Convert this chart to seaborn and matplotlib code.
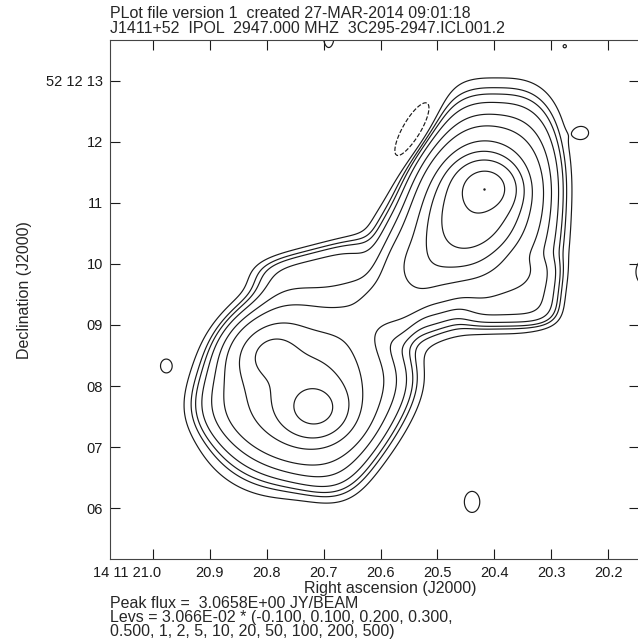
import numpy as np
import seaborn as sns
import matplotlib
matplotlib.use('Agg')
from matplotlib import pyplot as plt
from matplotlib.transforms import ScaledTranslation

# header / footer text
title_lines = ['PLot file version 1  created 27-MAR-2014 09:01:18',
               'J1411+52  IPOL  2947.000 MHZ  3C295-2947.ICL001.2']
peak_flux = 3.0658
lev_unit = 3.066e-02
levs = [-0.1, 0.1, 0.2, 0.3, 0.5, 1, 2, 5, 10, 20, 50, 100, 200, 500]

# axes ticks (RA seconds of 14h11m, Dec arcsec of +52d12m)
ra_ticks = [21.0, 20.9, 20.8, 20.7, 20.6, 20.5, 20.4, 20.3, 20.2]
ra_labels = ['14 11 21.0', '20.9', '20.8', '20.7', '20.6', '20.5', '20.4', '20.3', '20.2']
dec_ticks = [6, 7, 8, 9, 10, 11, 12, 13]
dec_labels = ['06', '07', '08', '09', '10', '11', '12', '52 12 13']
ra_lim = (21.0756, 20.1455)
dec_lim = (5.164, 13.672)

# source model components (fraction of peak)
# gaussian parts: hotspots / lobes / islands / negative hole
g_ra  = [20.415, 20.432, 20.490, 20.714, 20.798, 20.735, 20.636,
         20.977, 20.439, 20.246, 20.130, 20.691, 20.276, 20.540]
g_dec = [11.25, 10.97, 10.26, 7.61, 8.56, 8.02, 9.08,
         8.33, 6.10, 12.15, 9.87, 13.74, 13.57, 12.20]
g_amp = [0.62, 0.36, 0.08, 0.17, 0.07, 0.09, 0.012,
         0.0015, 0.0015, 0.0015, 0.0015, 0.0015, 0.00105, -0.0022]
g_sa  = [0.24, 0.49, 0.62, 0.33, 0.34, 0.66, 0.45,
         0.09, 0.13, 0.11, 0.20, 0.09, 0.06, 0.47]
g_sb  = [0.21, 0.39, 0.40, 0.29, 0.28, 0.56, 0.30,
         0.11, 0.18, 0.10, 0.25, 0.20, 0.06, 0.15]
g_ang = [0, 70, 50, 0, 30, 45, 40,
         0, 0, 0, 0, 0, 0, 60]
# flat-topped (superellipse) envelopes for the faint emission
e_ra  = [20.395, 20.373, 20.733, 20.707, 20.566]
e_dec = [10.97, 9.57, 7.88, 9.66, 9.57]
e_amp = [0.02, 0.01, 0.02, 0.006, 0.01]
e_sa  = [1.43, 0.68, 1.22, 0.91, 0.70]
e_sb  = [0.81, 0.50, 1.10, 0.56, 0.45]
e_ang = [90, 0, -30, 15, 60]
e_pow = [3, 4, 4, 4, 4]


def comp(ra, dec, ra_c, dec_c, sa, sb, ang, p):
	k = 15 * np.cos(np.radians(52.2))
	du = (ra_c - ra) * k
	dv = dec - dec_c
	t = np.radians(ang)
	a = du * np.cos(t) + dv * np.sin(t)
	b = -du * np.sin(t) + dv * np.cos(t)
	if p == 2:
		return np.exp(-0.5 * ((a / sa) ** 2 + (b / sb) ** 2))
	return np.exp(-(np.abs(a / sa) ** p + np.abs(b / sb) ** p))


ra = np.linspace(20.05, 21.15, 560)
dec = np.linspace(5.0, 14.0, 560)
RA, DEC = np.meshgrid(ra, dec)
img = np.zeros_like(RA)
for i in range(len(g_ra)):
	img += g_amp[i] * comp(RA, DEC, g_ra[i], g_dec[i], g_sa[i], g_sb[i], g_ang[i], 2)
for i in range(len(e_ra)):
	img += e_amp[i] * comp(RA, DEC, e_ra[i], e_dec[i], e_sa[i], e_sb[i], e_ang[i], e_pow[i])
img = img / img.max() * peak_flux

sns.set_theme(style='ticks')
plt.rcParams['font.family'] = ['Liberation Sans', 'DejaVu Sans']

fig = plt.figure(figsize=(6.38, 6.43), dpi=100)
ax = fig.add_axes([110 / 638, 84 / 643, 529 / 638, 519 / 643])
ax.contour(RA, DEC, img, levels=[lev_unit * l for l in levs], colors='k', linewidths=0.85)
jmax, imax = np.unravel_index(np.argmax(img), img.shape)
ax.plot(RA[jmax, imax], DEC[jmax, imax], 'k.', markersize=1.5)

ax.set_xlim(ra_lim)
ax.set_ylim(dec_lim)
ax.set_xticks(ra_ticks)
ax.set_xticklabels(ra_labels)
ax.set_yticks(dec_ticks)
ax.set_yticklabels(dec_labels)
ax.tick_params(direction='in', length=7.5, width=0.8, top=True, right=True,
               labelsize=10.5, colors='k', pad=5)
first = ax.get_xticklabels()[0]
first.set_horizontalalignment('right')
first.set_transform(first.get_transform() + ScaledTranslation(8 / 100, 0, fig.dpi_scale_trans))
for s in ax.spines.values():
	s.set_linewidth(0.8)
	s.set_color('#444444')

fs = 11.5
fig.text(110 / 638, 1 - 18 / 643, title_lines[0], fontsize=fs, ha='left', va='baseline')
fig.text(110 / 638, 1 - 33 / 643, title_lines[1], fontsize=fs, ha='left', va='baseline')
fig.text(390 / 638, 1 - 593 / 643, 'Right ascension (J2000)', fontsize=fs, ha='center', va='baseline')
fig.text(25 / 638, 1 - 290 / 643, 'Declination (J2000)', fontsize=fs, ha='center', va='center', rotation=90)
lv = ', '.join(f'{l:.3f}' if abs(l) < 1 else f'{l:g}' for l in levs)
fig.text(110 / 638, 1 - 608 / 643, f'Peak flux =  {peak_flux:.4E} JY/BEAM', fontsize=fs, ha='left', va='baseline')
fig.text(110 / 638, 1 - 622 / 643, f'Levs = {lev_unit:.3E} * ({lv[:lv.index("0.500")]}'.rstrip(), fontsize=fs, ha='left', va='baseline')
fig.text(110 / 638, 1 - 636 / 643, lv[lv.index('0.500'):] + ')', fontsize=fs, ha='left', va='baseline')

fig.savefig('out.png', dpi=100)
